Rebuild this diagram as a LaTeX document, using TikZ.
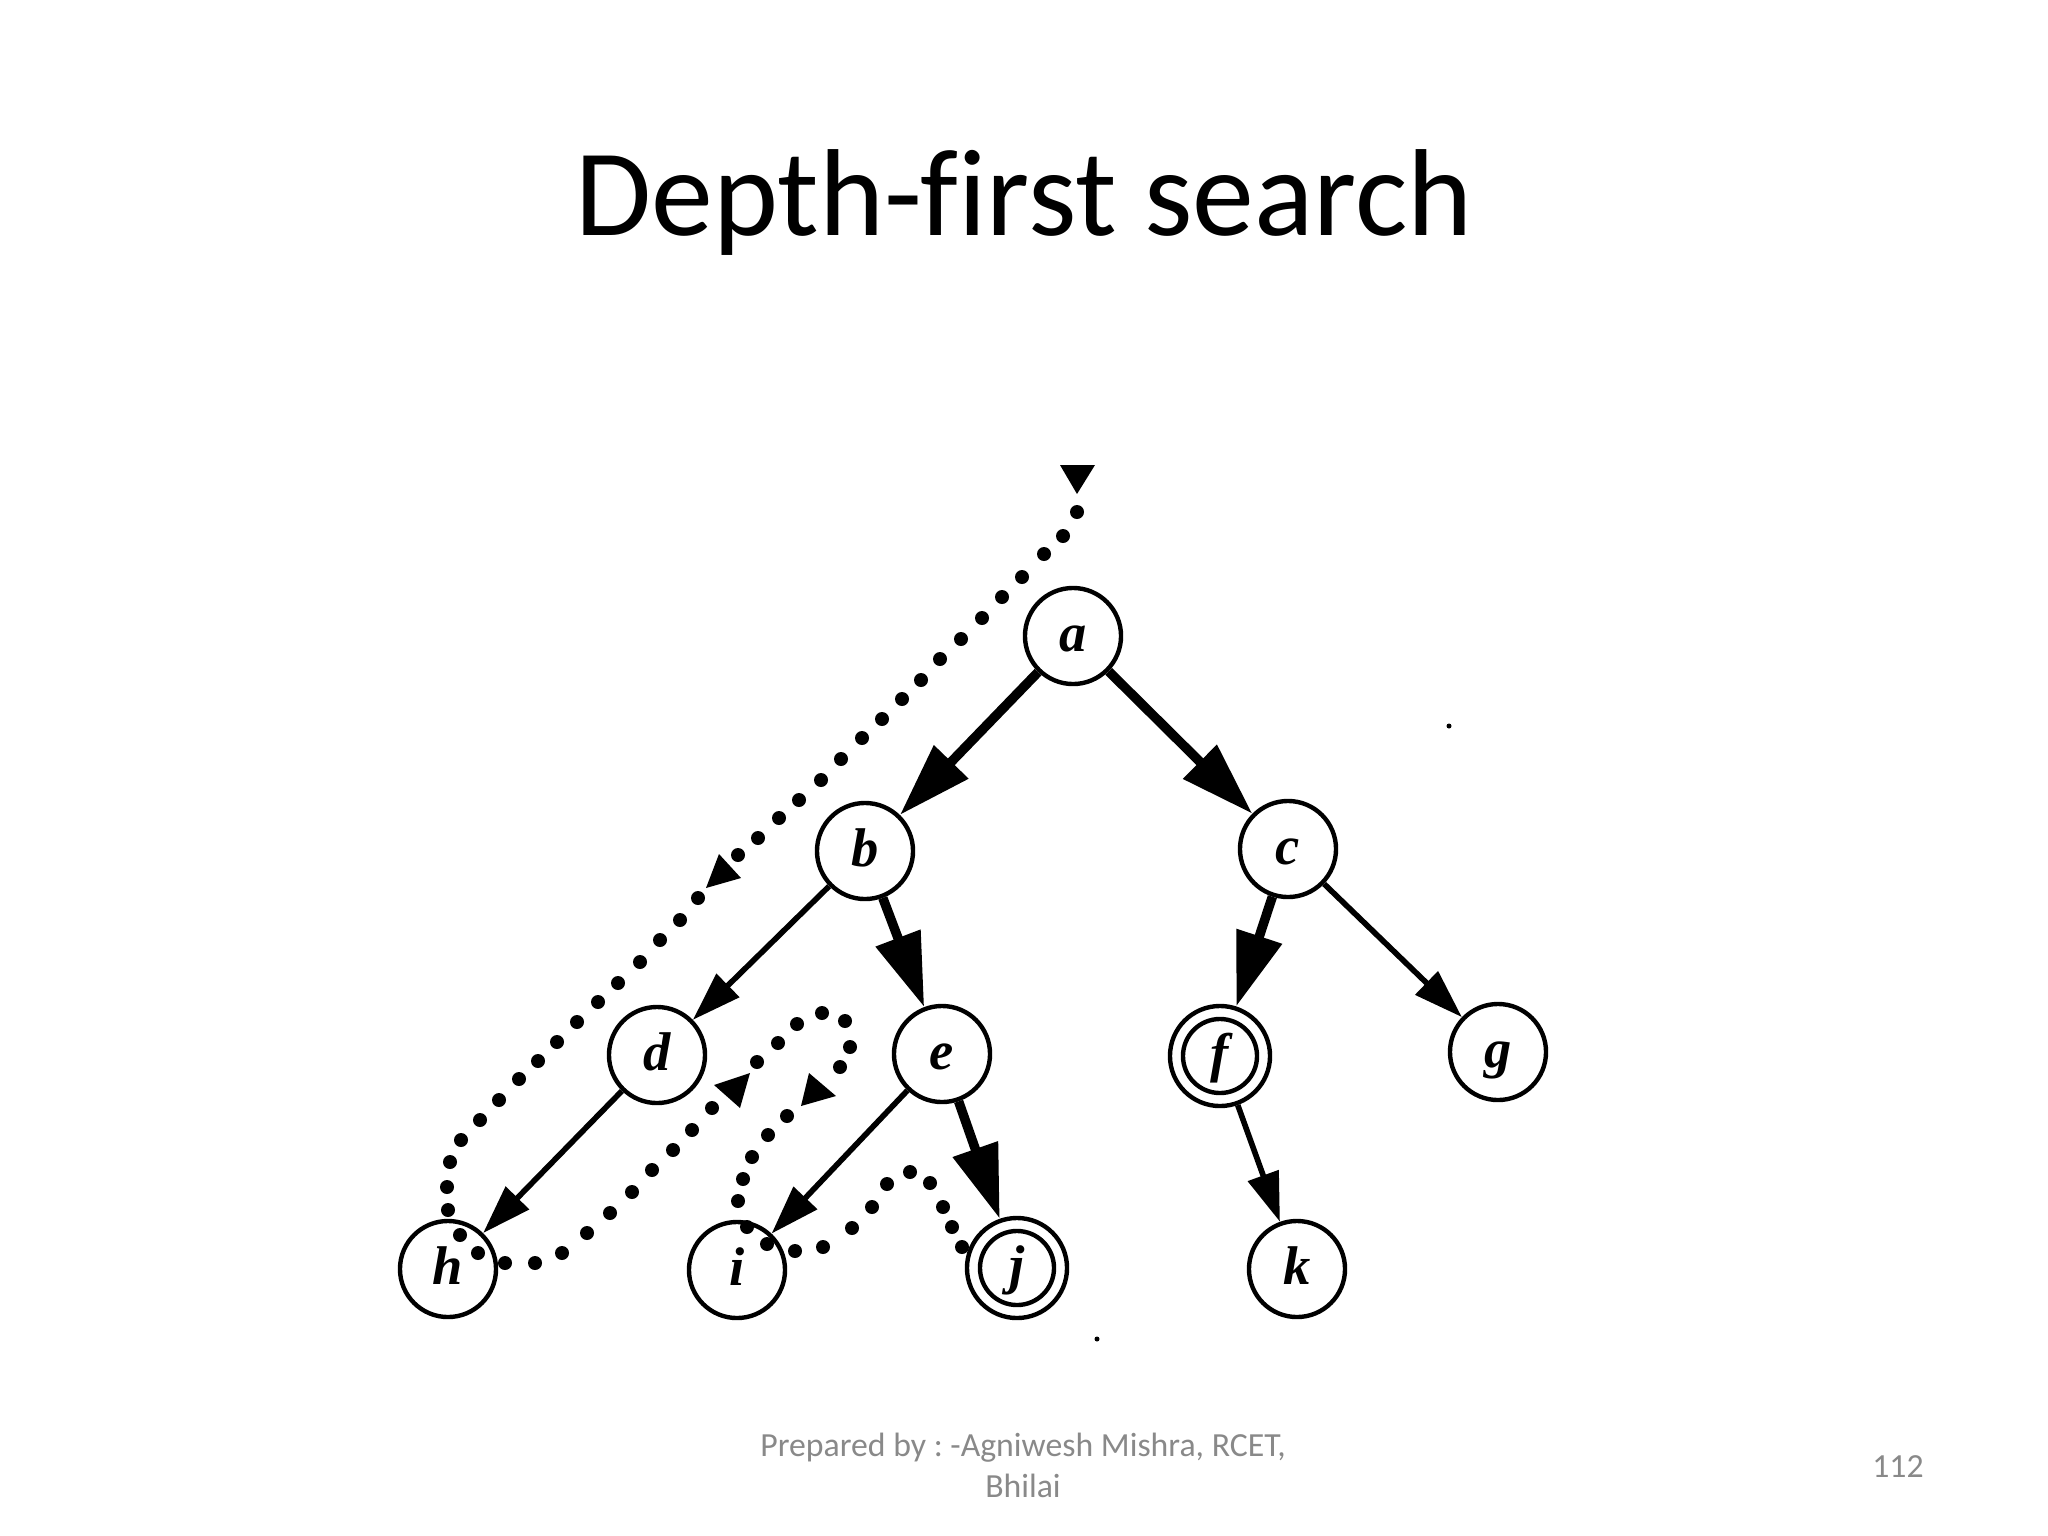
\documentclass[tikz,border=0pt]{standalone}
\usepackage{fontspec}
\setmainfont[Ligatures=NoCommon]{Carlito}
\newfontfamily\lblfont{Liberation Serif}
\usetikzlibrary{arrows.meta}
\definecolor{footgray}{RGB}{137,137,137}
\frenchspacing
\begin{document}
\begin{tikzpicture}[x=0.01cm,y=-0.01cm,
  vtx/.style={circle,draw,line width=1.25pt,fill=white,minimum size=0.96cm,inner sep=0pt,
    text height=11pt,text depth=2pt,
    font=\lblfont\bfseries\itshape\fontsize{15.5}{15.5}\selectfont},
  dvtx/.style={vtx,minimum size=1.0cm},
  thk/.style={line width=2.7pt,-{Triangle[length=21pt,width=13pt]}},
  thn/.style={line width=1.6pt,-{Triangle[length=14pt,width=9pt]}},
  foot/.style={anchor=base,text=footgray,font=\fontsize{9.6}{11}\selectfont}]
\useasboundingbox (0,0) rectangle (2048,1536);

% title
\node[anchor=base,font=\fontsize{35.2}{40}\selectfont] (title) at (1024,235) {Depth-f\kern0pt irst search};

% footer
\node[foot] (foot1) at (1023,1456) {Prepared by : -Agniwesh Mishra, RCET,};
\node[foot] (foot2) at (1023,1497) {Bhilai};
\node[foot] (pnum) at (1898,1477) {112};

% nodes
\node[vtx] (a) at (1073,636) {a};
\node[vtx] (b) at (865,851) {b};
\node[vtx] (c) at (1288,849) {c};
\node[vtx] (d) at (657,1055) {d};
\node[vtx] (e) at (942,1054) {e};
\node[dvtx] (f) at (1220,1056) {f};
\node[vtx] (g) at (1498,1052) {g};
\node[vtx] (h) at (448,1269) {h};
\node[vtx] (i) at (737,1270) {i};
\node[dvtx] (j) at (1017,1268) {j};
\node[vtx] (k) at (1297,1269) {k};
\draw[line width=1.25pt] (f.center) circle (0.37cm);
\draw[line width=1.25pt] (j.center) circle (0.37cm);

% tree edges
\draw[thk] (a) -- (b);
\draw[thk] (a) -- (c);
\draw[thk] (b) -- (e);
\draw[thk] (c) -- (f);
\draw[thk] (e) -- (j);
\draw[thn] (b) -- (d);
\draw[thn] (c) -- (g);
\draw[thn] (d) -- (h);
\draw[thn] (e) -- (i);
\draw[thn] (f) -- (k);

% dotted traversal
\foreach \x/\y in {1077/512,1063/536,1044/554,1022/577,1002/597,982/618,961/639,940/659,
  921/680,902/699,882/719,862/738,841/759,821/780,799/800,779/818,758/838,738/855,
  698/898,680/920,660/940,640/962,618/983,598/1002,577/1022,557/1042,538/1061,519/1079,
  499/1100,480/1120,461/1140,450/1162,447/1187,448/1210,460/1235,478/1253,505/1263,
  535/1263,562/1253,587/1233,610/1213,632/1192,652/1170,673/1150,692/1130,712/1108,
  757/1062,778/1043,797/1024,822/1013,845/1021,850/1047,840/1067,
  787/1116,768/1135,752/1157,743/1179,738/1201,747/1227,767/1244,795/1251,823/1247,
  852/1228,872/1207,887/1184,910/1172,930/1183,943/1207,952/1227,962/1247}
  \fill (\x,\y) circle (0.07cm);
\fill (1060,465) -- (1095,465) -- (1077,494) -- cycle;
\fill (719,854) -- (741,878) -- (706,888) -- cycle;
\fill (714,1085) -- (750,1073) -- (740,1108) -- cycle;
\fill (809,1073) -- (836,1096) -- (801,1106) -- cycle;

% stray specks
\fill (1449,726) circle (0.025cm);
\fill (1097,1339) circle (0.025cm);
\end{tikzpicture}
\end{document}
